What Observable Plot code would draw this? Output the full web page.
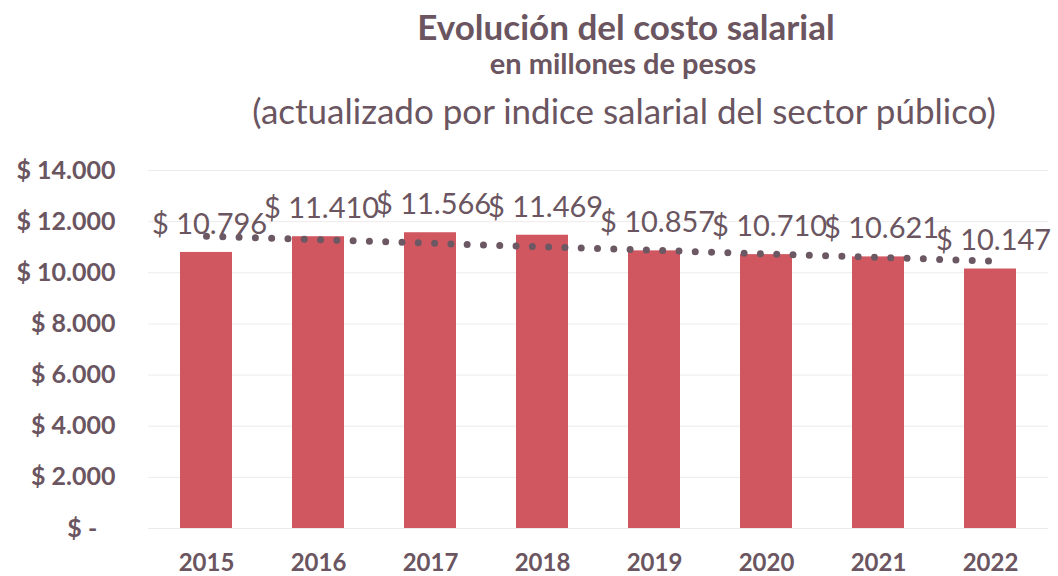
<!DOCTYPE html>
<html>
<head>
<meta charset="utf-8">
<script src="https://cdn.jsdelivr.net/npm/d3@7"></script>
<script src="https://cdn.jsdelivr.net/npm/@observablehq/plot@0.6"></script>
<style>
  body { margin: 0; background: #ffffff; font-family: Lato, "Open Sans", sans-serif; color: #6a5560; }
  #wrap { position: relative; width: 1058px; height: 576px; overflow: hidden; background: #fff; }
  .t { position: absolute; white-space: nowrap; line-height: 1; transform: translateX(-50%); }
  #t1 { left: 626px; top: 9px; font-size: 35px; font-weight: 700; }
  #t2 { left: 623px; top: 48px; font-size: 29px; font-weight: 700; }
  #t3 { left: 624px; top: 93px; font-size: 35px; font-weight: 400; }
  #chart { position: absolute; left: 0; top: 140px; }
</style>
</head>
<body>
<div id="wrap">
  <div class="t" id="t1">Evolución del costo salarial</div>
  <div class="t" id="t2">en millones de pesos</div>
  <div class="t" id="t3">(actualizado por indice salarial del sector público)</div>
  <div id="chart"></div>
</div>
<script>
const years = ["2015", "2016", "2017", "2018", "2019", "2020", "2021", "2022"];
const values = [10796, 11410, 11566, 11469, 10857, 10710, 10621, 10147];
const yTicks = [0, 2000, 4000, 6000, 8000, 10000, 12000, 14000];

const loc = d3.formatLocale({decimal: ",", thousands: ".", grouping: [3], currency: ["$ ", ""]});
const f = loc.format(",.0f");

const data = years.map((year, i) => ({year, value: values[i]}));

// linear trendline (least squares) over the series, like the spreadsheet's trendline
const mx = d3.mean(values, (_, i) => i);
const my = d3.mean(values);
const slope = d3.sum(values, (v, i) => (i - mx) * (v - my)) / d3.sum(values, (_, i) => (i - mx) ** 2);
const trend = years.map((year, i) => ({year, value: my + slope * (i - mx)}));

const textColor = "#6a5560";

const chart = Plot.plot({
  width: 1058,
  height: 436,
  marginLeft: 148,
  marginRight: 10,
  marginTop: 30,
  marginBottom: 48,
  x: {domain: years, paddingInner: 0.54, paddingOuter: 0.27, label: null},
  y: {domain: [0, 14000], label: null},
  style: {fontFamily: "Lato, 'Open Sans', sans-serif", color: textColor, background: "transparent"},
  marks: [
    Plot.gridY(yTicks, {stroke: "#efeaea", strokeOpacity: 1}),
    Plot.barY(data, {x: "year", y: "value", fill: "#d05660"}),
    Plot.line(trend, {x: "year", y: "value", stroke: "#6b5862", strokeWidth: 7, strokeDasharray: "0,16.3", strokeLinecap: "round"}),
    Plot.text(data, {x: "year", y: "value", text: d => "$ " + f(d.value), dy: -28, dx: 3, fontSize: 29, fill: textColor}),
    Plot.axisY({ticks: yTicks, tickSize: 0, tickPadding: 33, fontSize: 25, fontWeight: 700, label: null,
      tickFormat: v => v === 0 ? "$ -\u00a0\u00a0\u00a0" : "$ " + f(v)}),
    Plot.axisX({tickSize: 0, tickPadding: 25, fontSize: 24, fontWeight: 700, label: null})
  ]
});
document.getElementById("chart").appendChild(chart);
</script>
</body>
</html>
